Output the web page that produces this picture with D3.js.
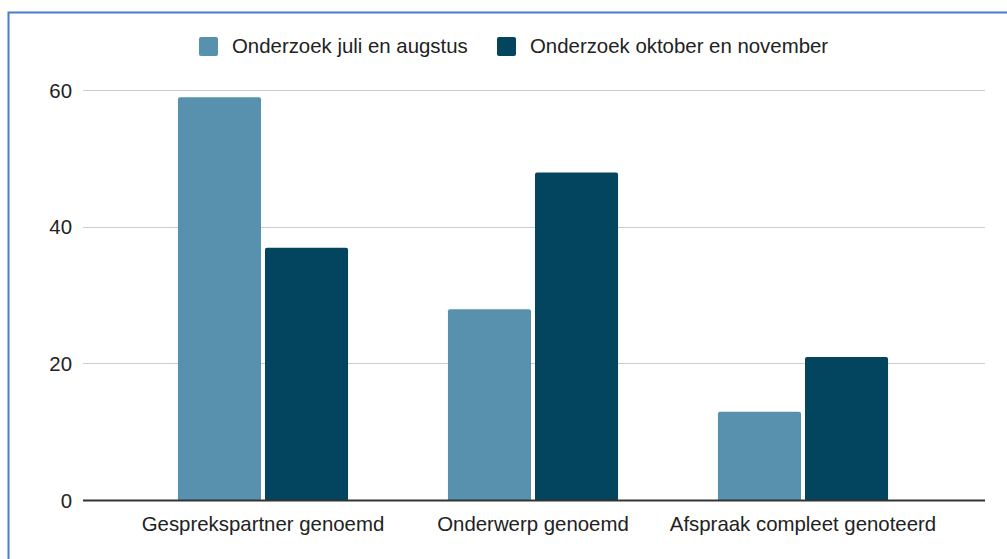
<!DOCTYPE html>
<html><head><meta charset="utf-8">
<script src="https://cdn.jsdelivr.net/npm/d3@7"></script>
<style>body{margin:0;background:#fff;}svg{display:block;font-family:"Liberation Sans",Arial,sans-serif;}</style>
</head><body>
<svg id="c" width="1007" height="559"></svg>
<script>
const categories = ["Gesprekspartner genoemd", "Onderwerp genoemd", "Afspraak compleet genoteerd"];
const seriesNames = ["Onderzoek juli en augstus", "Onderzoek oktober en november"];
const julAug = [59, 28, 13];
const oktNov = [37, 48, 21];
const yTicks = [0, 20, 40, 60];
const colors = ["#5891ad", "#03445f"];

const svg = d3.select("#c");
// frame
svg.append("path").attr("d","M8.5,559 V12.5 H1007").attr("fill","none").attr("stroke","#4a7bd0").attr("stroke-width",2);

const plotL = 83, plotR = 985;
const y = d3.scaleLinear().domain([0,60]).range([500.5, 90.5]);
const x = d3.scaleBand().domain(categories).range([128, 938]);
const bw = x.bandwidth();
const xs = d3.scaleBand().domain(seriesNames).range([bw*0.185, bw*0.815]).paddingInner(0.046);
const data = [julAug, oktNov];
const fs = 20.4;

// gridlines
svg.append("g").selectAll("line").data(yTicks.filter(t=>t!==0)).join("line")
  .attr("x1",plotL).attr("x2",plotR).attr("y1",d=>Math.round(y(d)-0.5)+0.5).attr("y2",d=>Math.round(y(d)-0.5)+0.5)
  .attr("stroke","#cccccc").attr("stroke-width",1);
// y labels
svg.append("g").selectAll("text").data(yTicks).join("text")
  .attr("x",72).attr("y",d=>y(d)).attr("dy","0.35em").attr("text-anchor","end")
  .attr("font-size",fs).attr("fill","#222").text(d=>d);

// bars
function barPath(x0,w,yt,yb,r){
  r=Math.min(r,(yb-yt)/2);
  return `M${x0},${yb}V${yt+r}Q${x0},${yt} ${x0+r},${yt}H${x0+w-r}Q${x0+w},${yt} ${x0+w},${yt+r}V${yb}Z`;
}
seriesNames.forEach((s,si)=>{
  svg.append("g").selectAll("path").data(categories).join("path")
    .attr("d",(c,i)=>barPath(x(c)+xs(s), xs.bandwidth(), y(data[si][i]), y(0), 2))
    .attr("fill",colors[si]);
});

// axis line
svg.append("line").attr("x1",plotL).attr("x2",plotR).attr("y1",y(0)).attr("y2",y(0)).attr("stroke","#333").attr("stroke-width",2);

// category labels
svg.append("g").selectAll("text").data(categories).join("text")
  .attr("x",d=>x(d)+bw/2).attr("y",531).attr("text-anchor","middle")
  .attr("font-size",fs).attr("fill","#222").text(d=>d);

// legend
const legX = [199, 497];
seriesNames.forEach((s,i)=>{
  const g = svg.append("g").attr("transform",`translate(${legX[i]},37)`);
  g.append("rect").attr("width",19).attr("height",19).attr("rx",2).attr("fill",colors[i]);
  g.append("text").attr("x",33).attr("y",16).attr("font-size",fs).attr("fill","#222").text(s);
});
</script>
</body></html>
